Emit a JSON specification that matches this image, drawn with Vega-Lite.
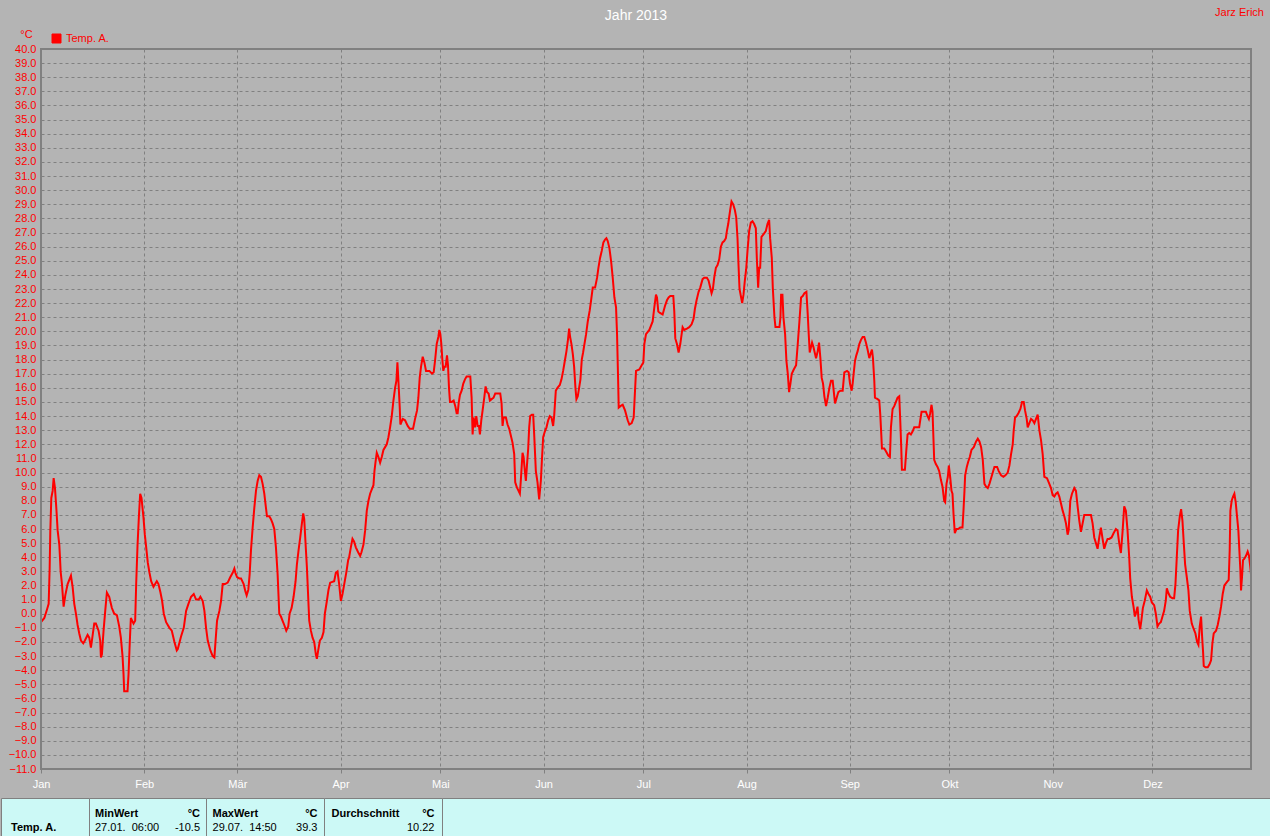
{
  "$schema": "https://vega.github.io/schema/vega-lite/v6.json",
  "background": "#b4b4b4",
  "padding": {"top": 7, "left": 0, "right": 0, "bottom": 0},
  "autosize": {"type": "pad"},
  "title": {"text": "Jahr 2013", "color": "#ffffff", "fontSize": 14, "fontWeight": "normal", "anchor": "middle", "offset": -16, "dy": 0},
  "spacing": 8,
  "bounds": "full",
  "config": {"font": "Liberation Sans", "view": {"stroke": null}},
  "vconcat": [
    {
      "width": 1250,
      "height": 720,
      "view": {"stroke": null, "fill": null},
      "title": {"text": "Jarz Erich", "anchor": "end", "color": "#ff0000", "fontSize": 11, "fontWeight": "normal", "dx": 12, "offset": 10},
      "layer": [
        {
          "data": {"values": [
        {"d":0.0,"t":-0.6},{"d":1.0,"t":-0.3},{"d":1.8,"t":0.3},{"d":2.3,"t":0.7},{"d":2.6,"t":3.2},{"d":2.8,"t":5.9},{"d":3.1,"t":8.2},{"d":3.5,"t":8.7},{"d":3.8,"t":9.6},{"d":4.2,"t":8.9},{"d":4.6,"t":7.5},{"d":5.0,"t":5.9},{"d":5.5,"t":4.9},{"d":5.7,"t":4.0},{"d":5.9,"t":3.0},{"d":6.3,"t":2.1},{"d":6.8,"t":0.5},{"d":7.3,"t":1.3},{"d":8.0,"t":2.1},{"d":9.0,"t":2.7},{"d":9.5,"t":1.9},{"d":10.0,"t":0.7},{"d":10.5,"t":0.0},{"d":11.0,"t":-0.8},{"d":11.5,"t":-1.4},{"d":12.0,"t":-1.9},{"d":12.7,"t":-2.1},{"d":13.2,"t":-1.9},{"d":14.0,"t":-1.5},{"d":14.5,"t":-1.7},{"d":15.0,"t":-2.4},{"d":15.3,"t":-1.9},{"d":16.0,"t":-0.7},{"d":16.5,"t":-0.7},{"d":17.3,"t":-1.2},{"d":17.8,"t":-1.9},{"d":18.0,"t":-3.1},{"d":18.3,"t":-2.9},{"d":18.8,"t":-1.2},{"d":19.3,"t":0.2},{"d":19.8,"t":1.5},{"d":20.5,"t":1.2},{"d":21.3,"t":0.4},{"d":22.0,"t":0.0},{"d":22.8,"t":-0.1},{"d":23.5,"t":-0.9},{"d":24.0,"t":-1.7},{"d":24.5,"t":-3.0},{"d":24.8,"t":-4.3},{"d":25.0,"t":-5.5},{"d":26.0,"t":-5.5},{"d":26.3,"t":-4.3},{"d":26.7,"t":-1.9},{"d":27.0,"t":-0.3},{"d":27.8,"t":-0.7},{"d":28.3,"t":-0.5},{"d":28.6,"t":2.1},{"d":29.0,"t":4.8},{"d":29.4,"t":6.8},{"d":29.8,"t":8.5},{"d":30.2,"t":8.2},{"d":30.8,"t":6.8},{"d":31.2,"t":5.6},{"d":31.7,"t":4.5},{"d":32.1,"t":3.6},{"d":32.6,"t":2.9},{"d":33.1,"t":2.3},{"d":33.8,"t":1.9},{"d":34.3,"t":2.1},{"d":34.8,"t":2.3},{"d":35.3,"t":2.1},{"d":35.9,"t":1.5},{"d":36.4,"t":0.9},{"d":36.9,"t":0.0},{"d":37.6,"t":-0.6},{"d":38.6,"t":-1.0},{"d":39.3,"t":-1.2},{"d":40.1,"t":-2.0},{"d":40.8,"t":-2.6},{"d":41.1,"t":-2.5},{"d":42.1,"t":-1.6},{"d":42.9,"t":-1.0},{"d":43.6,"t":0.2},{"d":44.3,"t":0.7},{"d":45.1,"t":1.2},{"d":45.9,"t":1.4},{"d":46.6,"t":1.0},{"d":47.4,"t":1.0},{"d":47.9,"t":1.2},{"d":48.6,"t":0.9},{"d":49.1,"t":0.2},{"d":49.6,"t":-1.0},{"d":50.1,"t":-1.9},{"d":50.9,"t":-2.6},{"d":51.6,"t":-3.0},{"d":52.1,"t":-3.1},{"d":52.4,"t":-2.1},{"d":52.9,"t":-0.5},{"d":53.6,"t":0.2},{"d":54.1,"t":0.9},{"d":54.6,"t":2.1},{"d":55.3,"t":2.1},{"d":56.1,"t":2.2},{"d":56.9,"t":2.6},{"d":57.6,"t":2.9},{"d":58.1,"t":3.2},{"d":58.4,"t":2.9},{"d":58.9,"t":2.6},{"d":59.6,"t":2.5},{"d":60.1,"t":2.5},{"d":60.9,"t":2.1},{"d":61.4,"t":1.6},{"d":61.8,"t":1.3},{"d":62.3,"t":1.7},{"d":62.7,"t":2.8},{"d":63.1,"t":4.5},{"d":63.6,"t":6.1},{"d":64.1,"t":7.5},{"d":64.6,"t":8.7},{"d":65.1,"t":9.4},{"d":65.6,"t":9.8},{"d":66.1,"t":9.7},{"d":66.6,"t":9.2},{"d":67.1,"t":8.5},{"d":67.6,"t":7.5},{"d":67.9,"t":6.9},{"d":68.6,"t":6.9},{"d":69.1,"t":6.7},{"d":69.6,"t":6.4},{"d":70.1,"t":6.0},{"d":70.6,"t":4.7},{"d":71.1,"t":2.8},{"d":71.6,"t":0.0},{"d":72.1,"t":-0.2},{"d":72.6,"t":-0.5},{"d":73.1,"t":-0.8},{"d":73.7,"t":-1.2},{"d":74.3,"t":-0.9},{"d":74.7,"t":0.0},{"d":75.3,"t":0.4},{"d":75.9,"t":1.2},{"d":76.5,"t":2.3},{"d":76.9,"t":3.5},{"d":77.4,"t":4.5},{"d":77.9,"t":5.4},{"d":78.4,"t":6.4},{"d":78.8,"t":7.1},{"d":79.1,"t":6.7},{"d":79.4,"t":5.4},{"d":79.9,"t":3.3},{"d":80.6,"t":-0.5},{"d":81.1,"t":-1.2},{"d":81.6,"t":-1.7},{"d":82.1,"t":-2.0},{"d":82.6,"t":-2.9},{"d":82.9,"t":-3.2},{"d":83.3,"t":-2.6},{"d":83.8,"t":-1.9},{"d":84.4,"t":-1.7},{"d":84.9,"t":-1.3},{"d":85.3,"t":0.0},{"d":85.9,"t":0.9},{"d":86.4,"t":1.7},{"d":86.9,"t":2.2},{"d":88.1,"t":2.3},{"d":88.6,"t":2.9},{"d":89.1,"t":3.0},{"d":89.6,"t":2.1},{"d":90.1,"t":0.9},{"d":90.6,"t":1.4},{"d":91.2,"t":2.2},{"d":91.8,"t":3.0},{"d":92.3,"t":3.8},
        {"d":92.6,"t":4.0},{"d":93.1,"t":4.7},{"d":93.6,"t":5.3},{"d":94.1,"t":5.1},{"d":94.6,"t":4.7},{"d":95.3,"t":4.35},{"d":95.9,"t":4.1},{"d":96.3,"t":4.35},{"d":96.9,"t":4.9},{"d":97.4,"t":5.9},{"d":97.9,"t":7.3},{"d":98.4,"t":8.0},{"d":98.9,"t":8.5},{"d":99.4,"t":8.8},{"d":99.9,"t":9.1},{"d":100.2,"t":10.1},{"d":100.5,"t":10.7},{"d":100.9,"t":11.4},{"d":101.4,"t":11.1},{"d":101.9,"t":10.7},{"d":102.4,"t":11.1},{"d":102.9,"t":11.6},{"d":103.4,"t":11.8},{"d":103.9,"t":12.0},{"d":104.4,"t":12.5},{"d":104.9,"t":13.2},{"d":105.4,"t":14.0},{"d":105.9,"t":15.1},{"d":106.4,"t":16.0},{"d":106.8,"t":16.5},{"d":107.1,"t":17.8},{"d":107.4,"t":16.5},{"d":107.8,"t":14.6},{"d":108.0,"t":13.4},{"d":108.7,"t":13.8},{"d":109.4,"t":13.7},{"d":110.2,"t":13.3},{"d":110.8,"t":13.1},{"d":111.8,"t":13.1},{"d":112.4,"t":13.8},{"d":113.0,"t":14.4},{"d":113.4,"t":15.3},{"d":113.8,"t":16.7},{"d":114.2,"t":17.5},{"d":114.7,"t":18.2},{"d":115.2,"t":17.8},{"d":115.7,"t":17.2},{"d":116.7,"t":17.2},{"d":117.5,"t":17.0},{"d":118.0,"t":17.1},{"d":118.4,"t":17.9},{"d":118.9,"t":19.1},{"d":119.4,"t":19.6},{"d":119.7,"t":20.1},{"d":120.0,"t":19.8},{"d":120.3,"t":19.1},{"d":120.6,"t":18.0},{"d":120.9,"t":17.2},{"d":121.2,"t":17.5},{"d":121.6,"t":17.5},{"d":122.0,"t":18.3},{"d":122.3,"t":17.6},{"d":122.6,"t":16.0},{"d":122.9,"t":15.0},{"d":123.4,"t":15.0},{"d":124.0,"t":15.1},{"d":124.5,"t":14.7},{"d":124.9,"t":14.2},{"d":125.2,"t":14.2},{"d":125.5,"t":14.9},{"d":125.9,"t":15.5},{"d":126.4,"t":15.8},{"d":126.9,"t":16.3},{"d":127.4,"t":16.6},{"d":127.9,"t":16.8},{"d":129.0,"t":16.8},{"d":129.4,"t":15.3},{"d":129.7,"t":12.7},{"d":130.0,"t":13.9},{"d":130.4,"t":13.2},{"d":130.8,"t":14.0},{"d":131.2,"t":13.3},{"d":131.6,"t":13.3},{"d":131.9,"t":12.7},{"d":132.3,"t":13.7},{"d":132.7,"t":14.4},{"d":133.2,"t":15.3},{"d":133.6,"t":16.1},{"d":134.0,"t":15.7},{"d":134.5,"t":15.6},{"d":134.9,"t":15.1},{"d":135.4,"t":15.2},{"d":136.0,"t":15.3},{"d":136.5,"t":15.6},{"d":137.2,"t":15.6},{"d":138.0,"t":15.6},{"d":138.4,"t":14.9},{"d":138.7,"t":13.3},{"d":139.0,"t":13.9},{"d":139.7,"t":13.9},{"d":140.2,"t":13.4},{"d":140.7,"t":13.1},{"d":141.2,"t":12.6},{"d":141.7,"t":12.1},{"d":142.2,"t":11.3},{"d":142.5,"t":9.3},{"d":143.0,"t":8.95},{"d":143.5,"t":8.7},{"d":143.9,"t":8.5},{"d":144.2,"t":9.5},{"d":144.7,"t":11.4},{"d":145.0,"t":11.1},{"d":145.4,"t":10.1},{"d":145.7,"t":9.4},{"d":146.0,"t":10.4},{"d":146.4,"t":11.7},{"d":146.7,"t":13.2},{"d":147.0,"t":14.0},{"d":147.5,"t":14.1},{"d":147.9,"t":14.1},{"d":148.2,"t":12.7},{"d":148.7,"t":10.1},{"d":149.2,"t":9.3},{"d":149.7,"t":8.1},{"d":150.2,"t":9.4},{"d":150.5,"t":10.8},{"d":150.9,"t":12.5},{"d":151.4,"t":12.9},{"d":151.9,"t":13.2},{"d":152.4,"t":13.7},{"d":152.9,"t":14.0},{"d":153.4,"t":13.9},{"d":153.9,"t":13.3},{"d":154.2,"t":14.0},{"d":154.7,"t":15.8},{"d":155.2,"t":16.0},{"d":155.9,"t":16.2},{"d":156.4,"t":16.6},{"d":156.9,"t":17.2},{"d":157.4,"t":17.9},{"d":157.9,"t":18.6},{"d":158.3,"t":19.3},{"d":158.7,"t":20.2},{"d":159.0,"t":19.6},{"d":159.4,"t":19.1},{"d":159.8,"t":18.4},{"d":160.2,"t":17.5},{"d":160.6,"t":16.0},{"d":160.9,"t":15.2},{"d":161.3,"t":15.4},{"d":161.7,"t":16.0},{"d":162.1,"t":16.6},{"d":162.5,"t":18.0},{"d":162.9,"t":18.5},{"d":163.3,"t":19.1},{"d":163.8,"t":19.8},
        {"d":164.3,"t":20.7},{"d":164.9,"t":21.5},{"d":165.3,"t":22.2},{"d":165.8,"t":23.1},{"d":166.5,"t":23.1},{"d":167.1,"t":23.8},{"d":167.5,"t":24.5},{"d":168.0,"t":25.2},{"d":168.5,"t":25.7},{"d":169.0,"t":26.3},{"d":169.5,"t":26.5},{"d":169.9,"t":26.6},{"d":170.3,"t":26.4},{"d":170.8,"t":25.9},{"d":171.3,"t":25.0},{"d":171.8,"t":23.8},{"d":172.3,"t":22.4},{"d":172.8,"t":21.7},{"d":173.1,"t":19.8},{"d":173.4,"t":16.8},{"d":173.6,"t":14.6},{"d":174.1,"t":14.7},{"d":174.8,"t":14.8},{"d":175.5,"t":14.4},{"d":176.3,"t":13.7},{"d":176.8,"t":13.4},{"d":177.5,"t":13.5},{"d":178.1,"t":13.9},{"d":178.5,"t":15.8},{"d":178.8,"t":17.2},{"d":179.8,"t":17.3},{"d":180.5,"t":17.6},{"d":181.0,"t":17.8},{"d":181.3,"t":19.1},{"d":181.8,"t":19.8},{"d":182.8,"t":20.1},
        {"d":183.8,"t":20.7},{"d":184.3,"t":21.7},{"d":184.8,"t":22.6},{"d":185.1,"t":22.4},{"d":185.5,"t":21.4},{"d":186.0,"t":21.3},{"d":186.8,"t":21.2},{"d":187.5,"t":21.8},{"d":188.1,"t":22.2},{"d":188.6,"t":22.4},{"d":189.1,"t":22.5},{"d":190.0,"t":22.5},{"d":190.3,"t":21.4},{"d":190.6,"t":19.5},{"d":191.1,"t":19.1},{"d":191.6,"t":18.5},{"d":192.1,"t":19.1},{"d":192.8,"t":20.3},{"d":193.3,"t":20.1},{"d":194.1,"t":20.2},{"d":194.8,"t":20.3},{"d":195.5,"t":20.5},{"d":196.1,"t":20.9},{"d":196.5,"t":21.6},{"d":197.0,"t":22.2},{"d":197.6,"t":22.8},{"d":198.1,"t":23.1},{"d":198.8,"t":23.7},{"d":199.3,"t":23.8},{"d":200.1,"t":23.8},{"d":200.6,"t":23.6},{"d":201.1,"t":23.1},{"d":201.5,"t":22.7},{"d":201.9,"t":23.0},{"d":202.3,"t":23.8},{"d":202.8,"t":24.5},{"d":203.3,"t":24.7},{"d":203.8,"t":25.1},{"d":204.3,"t":26.0},{"d":204.8,"t":26.3},{"d":205.3,"t":26.4},{"d":205.8,"t":26.6},{"d":206.1,"t":27.1},{"d":206.5,"t":27.6},{"d":206.8,"t":28.1},{"d":207.1,"t":28.6},{"d":207.5,"t":29.2},{"d":208.0,"t":29.0},{"d":208.5,"t":28.6},{"d":208.9,"t":28.1},{"d":209.3,"t":26.6},{"d":209.6,"t":24.7},{"d":209.9,"t":23.0},{"d":210.3,"t":22.5},{"d":210.7,"t":22.0},{"d":211.1,"t":22.6},{"d":211.5,"t":23.6},{"d":211.9,"t":24.4},{"d":212.3,"t":25.7},{"d":212.8,"t":27.1},{"d":213.3,"t":27.7},{"d":213.8,"t":27.8},{"d":214.3,"t":27.6},{"d":214.8,"t":27.3},{"d":215.1,"t":25.2},{"d":215.5,"t":23.1},{"d":215.8,"t":24.5},{"d":216.1,"t":24.5},{"d":216.5,"t":26.7},{"d":217.2,"t":26.9},{"d":217.8,"t":27.1},{"d":218.3,"t":27.6},{"d":218.8,"t":27.9},{"d":219.1,"t":26.6},{"d":219.6,"t":25.2},
        {"d":219.9,"t":23.1},{"d":220.4,"t":21.0},{"d":220.7,"t":20.3},{"d":221.9,"t":20.3},{"d":222.2,"t":21.0},{"d":222.4,"t":22.6},{"d":222.8,"t":22.6},{"d":223.1,"t":21.0},{"d":223.6,"t":19.8},{"d":224.0,"t":17.9},{"d":224.4,"t":17.0},{"d":224.8,"t":15.7},{"d":225.2,"t":16.3},{"d":225.6,"t":17.0},{"d":226.2,"t":17.3},{"d":226.9,"t":17.6},{"d":227.4,"t":19.1},{"d":227.9,"t":20.7},{"d":228.4,"t":22.4},{"d":228.9,"t":22.5},{"d":229.4,"t":22.7},{"d":230.0,"t":22.8},{"d":230.4,"t":21.2},{"d":230.7,"t":19.8},{"d":231.0,"t":18.5},{"d":231.4,"t":18.9},{"d":231.7,"t":19.2},{"d":232.1,"t":18.9},{"d":232.6,"t":18.4},{"d":232.9,"t":18.1},{"d":233.4,"t":18.6},{"d":233.8,"t":19.2},{"d":234.2,"t":18.1},{"d":234.6,"t":16.7},{"d":235.0,"t":16.3},{"d":235.4,"t":15.4},{"d":235.9,"t":14.7},{"d":236.4,"t":15.3},{"d":236.9,"t":16.0},{"d":237.4,"t":16.5},{"d":237.9,"t":16.5},{"d":238.2,"t":15.8},{"d":238.6,"t":14.9},{"d":239.1,"t":15.3},{"d":239.6,"t":15.7},{"d":240.2,"t":15.8},{"d":240.9,"t":15.8},{"d":241.4,"t":17.1},{"d":242.2,"t":17.2},{"d":242.7,"t":17.1},{"d":243.1,"t":16.3},{"d":243.6,"t":15.8},{"d":243.9,"t":16.3},{"d":244.2,"t":17.0},{"d":244.6,"t":17.9},{"d":245.0,"t":18.3},{"d":245.4,"t":18.6},{"d":245.9,"t":19.1},{"d":246.4,"t":19.4},{"d":246.9,"t":19.6},{"d":247.4,"t":19.6},{"d":247.9,"t":19.2},{"d":248.4,"t":18.7},{"d":248.9,"t":18.1},{"d":249.4,"t":18.5},{"d":249.7,"t":18.7},{"d":250.0,"t":18.1},{"d":250.4,"t":16.5},{"d":250.6,"t":15.3},{"d":251.4,"t":15.2},{"d":251.9,"t":15.1},{"d":252.2,"t":14.1},{"d":252.5,"t":12.7},{"d":252.7,"t":11.7},{"d":253.4,"t":11.7},{"d":253.9,"t":11.5},{"d":254.6,"t":11.2},{"d":255.1,"t":11.1},{"d":255.4,"t":13.2},{"d":255.9,"t":14.5},{"d":256.4,"t":14.7},{"d":256.9,"t":15.0},{"d":257.4,"t":15.3},{"d":257.9,"t":15.4},{"d":258.2,"t":13.7},{"d":258.5,"t":11.8},{"d":258.7,"t":10.2},{"d":259.6,"t":10.2},{"d":260.0,"t":11.5},{"d":260.4,"t":12.7},{"d":260.9,"t":12.8},{"d":261.4,"t":12.7},{"d":261.9,"t":12.9},{"d":262.4,"t":13.2},{"d":263.2,"t":13.2},{"d":263.9,"t":13.2},{"d":264.2,"t":13.7},{"d":264.6,"t":14.3},{"d":265.2,"t":14.3},{"d":265.9,"t":14.3},{"d":266.4,"t":14.0},{"d":266.8,"t":13.8},{"d":267.2,"t":14.2},{"d":267.6,"t":14.8},{"d":267.9,"t":14.3},{"d":268.4,"t":10.9},{"d":268.9,"t":10.6},{"d":269.4,"t":10.4},{"d":269.9,"t":10.1},
        {"d":270.4,"t":9.5},{"d":270.9,"t":9.0},{"d":271.4,"t":8.0},{"d":271.7,"t":7.9},{"d":272.1,"t":9.2},{"d":272.5,"t":9.7},{"d":272.8,"t":10.5},{"d":273.2,"t":9.7},{"d":273.6,"t":8.7},{"d":273.9,"t":8.5},{"d":274.2,"t":7.1},{"d":274.6,"t":5.7},{"d":275.1,"t":6.0},{"d":275.6,"t":6.0},{"d":276.2,"t":6.1},{"d":276.9,"t":6.1},{"d":277.2,"t":7.3},{"d":277.5,"t":8.7},{"d":277.7,"t":9.8},{"d":278.2,"t":10.4},{"d":278.6,"t":10.75},{"d":279.1,"t":11.1},{"d":279.6,"t":11.6},{"d":280.3,"t":11.8},{"d":281.0,"t":12.2},{"d":281.5,"t":12.4},{"d":282.0,"t":12.2},{"d":282.5,"t":11.8},{"d":283.0,"t":10.9},{"d":283.5,"t":9.2},{"d":284.0,"t":9.0},{"d":284.5,"t":8.9},{"d":285.0,"t":9.2},{"d":285.5,"t":9.6},{"d":286.0,"t":10.0},{"d":286.5,"t":10.4},{"d":287.3,"t":10.4},{"d":287.8,"t":10.1},{"d":288.5,"t":9.8},{"d":289.2,"t":9.7},{"d":289.8,"t":9.8},{"d":290.5,"t":10.0},{"d":291.0,"t":10.5},{"d":291.5,"t":11.3},{"d":292.0,"t":12.0},{"d":292.3,"t":13.0},{"d":292.7,"t":13.9},{"d":293.2,"t":14.0},{"d":293.7,"t":14.2},{"d":294.3,"t":14.5},{"d":294.8,"t":15.0},{"d":295.3,"t":15.0},{"d":295.7,"t":14.4},{"d":296.2,"t":13.8},{"d":296.5,"t":13.2},{"d":297.0,"t":13.5},{"d":297.5,"t":13.8},{"d":298.0,"t":13.7},{"d":298.5,"t":13.5},{"d":299.0,"t":13.8},{"d":299.5,"t":14.1},{"d":300.0,"t":13.0},{"d":300.5,"t":12.3},{"d":301.0,"t":11.3},{"d":301.5,"t":9.7},{"d":302.3,"t":9.6},{"d":303.0,"t":9.2},{"d":303.5,"t":8.9},{"d":304.0,"t":8.4},{"d":304.5,"t":8.3},{"d":305.0,"t":8.5},{"d":305.5,"t":8.6},{"d":306.0,"t":8.3},{"d":306.5,"t":7.8},{"d":307.0,"t":7.3},{"d":307.5,"t":6.9},{"d":308.0,"t":6.4},{"d":308.5,"t":5.6},{"d":308.8,"t":5.9},{"d":309.3,"t":8.0},{"d":309.8,"t":8.5},{"d":310.5,"t":8.9},{"d":311.0,"t":8.7},{"d":311.5,"t":7.6},{"d":312.0,"t":6.6},{"d":312.5,"t":5.8},{"d":313.0,"t":6.4},{"d":313.5,"t":7.0},{"d":314.5,"t":7.0},{"d":315.5,"t":7.0},{"d":316.0,"t":6.4},{"d":316.5,"t":5.4},{"d":317.0,"t":5.0},{"d":317.5,"t":4.6},{"d":318.0,"t":5.4},{"d":318.5,"t":6.1},{"d":319.0,"t":5.3},{"d":319.5,"t":4.6},{"d":320.0,"t":5.0},{"d":320.5,"t":5.3},{"d":321.0,"t":5.3},{"d":321.7,"t":5.4},{"d":322.3,"t":5.7},{"d":323.0,"t":6.0},{"d":323.5,"t":5.9},{"d":324.0,"t":5.0},{"d":324.5,"t":4.3},{"d":325.0,"t":5.8},{"d":325.5,"t":7.6},{"d":326.0,"t":7.3},{"d":326.5,"t":5.9},{"d":327.0,"t":4.0},{"d":327.3,"t":2.5},{"d":327.8,"t":1.2},{"d":328.3,"t":0.5},{"d":328.7,"t":-0.2},{"d":329.1,"t":0.1},{"d":329.5,"t":0.5},{"d":329.8,"t":-0.4},{"d":330.3,"t":-1.1},{"d":330.7,"t":-0.4},{"d":331.1,"t":0.4},{"d":331.7,"t":0.95},{"d":332.3,"t":1.65},{"d":332.8,"t":1.4},{"d":333.3,"t":1.2},{"d":333.8,"t":0.8},{"d":334.5,"t":0.6},{"d":335.0,"t":0.0},{"d":335.5,"t":-0.9},{"d":336.0,"t":-0.7},{"d":336.5,"t":-0.6},{"d":337.0,"t":-0.2},{"d":337.5,"t":0.2},{"d":338.0,"t":0.95},{"d":338.3,"t":1.8},{"d":338.7,"t":1.5},{"d":339.3,"t":1.2},{"d":340.0,"t":1.1},{"d":340.5,"t":1.1},{"d":340.9,"t":2.1},{"d":341.3,"t":4.0},{"d":341.7,"t":5.9},{"d":342.2,"t":6.9},{"d":342.6,"t":7.4},{"d":343.0,"t":6.6},{"d":343.4,"t":5.0},{"d":343.8,"t":3.5},{"d":344.3,"t":2.6},{"d":344.8,"t":1.65},{"d":345.2,"t":0.2},{"d":345.8,"t":-0.7},{"d":346.4,"t":-1.1},{"d":346.9,"t":-1.4},{"d":347.4,"t":-2.0},{"d":347.8,"t":-2.2},{"d":348.2,"t":-0.9},{"d":348.6,"t":-0.2},{"d":348.9,"t":-1.6},{"d":349.2,"t":-2.7},{"d":349.4,"t":-3.7},{"d":349.9,"t":-3.8},{"d":350.6,"t":-3.8},{"d":351.1,"t":-3.6},{"d":351.6,"t":-3.3},{"d":352.0,"t":-2.1},{"d":352.4,"t":-1.4},{"d":353.1,"t":-1.2},{"d":353.6,"t":-0.8},{"d":354.1,"t":-0.2},{"d":354.6,"t":0.5},{"d":355.1,"t":1.4},{"d":355.6,"t":2.0},{"d":356.4,"t":2.25},{"d":356.9,"t":2.4},{"d":357.2,"t":4.5},{"d":357.4,"t":7.3},{"d":357.8,"t":8.0},{"d":358.2,"t":8.3},{"d":358.6,"t":8.5},{"d":359.0,"t":7.9},{"d":359.4,"t":6.9},{"d":359.8,"t":5.9},{"d":360.1,"t":4.5},{"d":360.4,"t":3.1},{"d":360.6,"t":1.65},{"d":360.9,"t":2.6},{"d":361.2,"t":3.8},{"d":361.6,"t":3.9},{"d":362.1,"t":4.1},{"d":362.6,"t":4.4},{"d":363.0,"t":4.1},{"d":363.4,"t":3.3},{"d":363.6,"t":2.8}
          ]},
          "mark": {"type": "line", "strokeWidth": 2, "clip": true},
          "encoding": {
            "x": {"field": "d", "type": "quantitative",
              "scale": {"domain": [0, 363.6], "range": [40, 1250], "nice": false, "zero": false},
              "axis": {"title": null, "values": [0,31,59,90,120,151,181,212,243,273,304,334],
                "labelExpr": "['Jan','Feb','Mär','Apr','Mai','Jun','Jul','Aug','Sep','Okt','Nov','Dez'][indexof([0,31,59,90,120,151,181,212,243,273,304,334], datum.value)]",
                "labelColor": "#ffffff", "labelFontSize": 11, "labelPadding": 5, "labelFlush": false, "labelOverlap": false, "labelBound": false,
                "tickColor": "#808080", "tickSize": 4, "tickWidth": 1, "domain": false,
                "grid": true, "gridColor": "#808080", "gridDash": [3, 3], "gridWidth": 1, "gridOpacity": 1}},
            "y": {"field": "t", "type": "quantitative",
              "scale": {"domain": [-11, 40], "nice": false, "zero": false},
              "axis": {"title": "°C", "titleAngle": 0, "titleX": -15, "titleY": -15, "titleAlign": "center", "titleBaseline": "middle",
                "titleColor": "#ff0000", "titleFontSize": 11, "titleFontWeight": "normal", "offset": -40,
                "values": [-11,-10,-9,-8,-7,-6,-5,-4,-3,-2,-1,0,1,2,3,4,5,6,7,8,9,10,11,12,13,14,15,16,17,18,19,20,21,22,23,24,25,26,27,28,29,30,31,32,33,34,35,36,37,38,39,40],
                "format": ".1f", "labelColor": "#ff0000", "labelFontSize": 11, "labelPadding": 5, "labelFlush": false, "labelOverlap": false, "labelBound": false,
                "ticks": false, "domain": false,
                "grid": true, "gridColor": "#808080", "gridDash": [3, 3], "gridWidth": 1, "gridOpacity": 1}},
            "color": {"datum": "Temp. A.", "type": "nominal", "scale": {"range": ["#ff0000"]},
              "legend": {"title": null, "orient": "none", "legendX": 50, "legendY": -16, "padding": 0,
                "labelColor": "#ff0000", "labelFontSize": 11, "labelOffset": 4,
                "symbolType": "square", "symbolSize": 81, "symbolFillColor": "#ff0000", "symbolStrokeColor": "#ffffff", "symbolStrokeWidth": 1,
                "encode": {"symbols": {"update": {"fill": {"value": "#ff0000"}, "stroke": {"value": "#ffffff"}, "strokeWidth": {"value": 1}, "opacity": {"value": 1}}}}}}
          }
        },
        {
          "data": {"values": [{"frame": "plot"}]},
          "mark": {"type": "rect", "fillOpacity": 0, "stroke": "#808080", "strokeWidth": 2},
          "encoding": {
            "x": {"datum": 0, "type": "quantitative",
              "axis": {"title": null, "values": [0,31,59,90,120,151,181,212,243,273,304,334],
                "labelExpr": "['Jan','Feb','Mär','Apr','Mai','Jun','Jul','Aug','Sep','Okt','Nov','Dez'][indexof([0,31,59,90,120,151,181,212,243,273,304,334], datum.value)]",
                "labelColor": "#ffffff", "labelFontSize": 11, "labelPadding": 5, "labelFlush": false, "labelOverlap": false, "labelBound": false,
                "tickColor": "#808080", "tickSize": 4, "tickWidth": 1, "domain": false,
                "grid": true, "gridColor": "#808080", "gridDash": [3, 3], "gridWidth": 1, "gridOpacity": 1}},
            "x2": {"datum": 363.6},
            "y": {"datum": -11, "type": "quantitative",
              "axis": {"title": "°C", "titleAngle": 0, "titleX": -15, "titleY": -15, "titleAlign": "center", "titleBaseline": "middle",
                "titleColor": "#ff0000", "titleFontSize": 11, "titleFontWeight": "normal", "offset": -40,
                "values": [-11,-10,-9,-8,-7,-6,-5,-4,-3,-2,-1,0,1,2,3,4,5,6,7,8,9,10,11,12,13,14,15,16,17,18,19,20,21,22,23,24,25,26,27,28,29,30,31,32,33,34,35,36,37,38,39,40],
                "format": ".1f", "labelColor": "#ff0000", "labelFontSize": 11, "labelPadding": 5, "labelFlush": false, "labelOverlap": false, "labelBound": false,
                "ticks": false, "domain": false,
                "grid": true, "gridColor": "#808080", "gridDash": [3, 3], "gridWidth": 1, "gridOpacity": 1}},
            "y2": {"datum": 40}
          }
        }
      ]
    },
    {
      "hconcat": [
        {
          "width": 88, "height": 38,
          "view": {"fill": "#ccf9f6", "stroke": "#808080", "strokeWidth": 1},
          "data": {"values": [{"row": "v", "label": "Temp. A."}]},
          "mark": {"type": "text", "align": "left", "baseline": "alphabetic", "fontWeight": "bold", "fontSize": 11, "color": "#000000"},
          "encoding": {
            "x": {"datum": "L", "type": "nominal", "scale": {"type": "point", "domain": ["L", "R"], "padding": 0.147}, "axis": null},
            "y": {"field": "row", "type": "nominal", "scale": {"type": "point", "domain": ["h", "v"], "padding": 0.8, "align": 0.8}, "axis": null},
            "text": {"field": "label"}
          }
        },
        {
          "width": 117, "height": 38,
          "view": {"fill": "#ccf9f6", "stroke": "#808080", "strokeWidth": 1},
          "data": {"values": [{"row": "h", "left": "MinWert", "right": "°C"}, {"row": "v", "left": "27.01.\u00a0\u00a006:00", "right": "-10.5"}]},
          "encoding": {"y": {"field": "row", "type": "nominal", "scale": {"type": "point", "domain": ["h", "v"], "padding": 0.8, "align": 0.8}, "axis": null}},
          "layer": [
            {"transform": [{"filter": "datum.row == 'h'"}], "mark": {"type": "text", "align": "left", "baseline": "alphabetic", "fontWeight": "bold", "fontSize": 11, "color": "#000000"},
             "encoding": {"x": {"datum": "L", "type": "nominal", "scale": {"type": "point", "domain": ["L", "R"], "padding": 0.057}, "axis": null}, "text": {"field": "left"}}},
            {"transform": [{"filter": "datum.row == 'h'"}], "mark": {"type": "text", "align": "right", "baseline": "alphabetic", "fontWeight": "bold", "fontSize": 11, "color": "#000000"},
             "encoding": {"x": {"datum": "R", "type": "nominal"}, "text": {"field": "right"}}},
            {"transform": [{"filter": "datum.row == 'v'"}], "mark": {"type": "text", "align": "left", "baseline": "alphabetic", "fontWeight": "normal", "fontSize": 11, "color": "#000000"},
             "encoding": {"x": {"datum": "L", "type": "nominal"}, "text": {"field": "left"}}},
            {"transform": [{"filter": "datum.row == 'v'"}], "mark": {"type": "text", "align": "right", "baseline": "alphabetic", "fontWeight": "normal", "fontSize": 11, "color": "#000000"},
             "encoding": {"x": {"datum": "R", "type": "nominal"}, "text": {"field": "right"}}}
          ]
        },
        {
          "width": 118, "height": 38,
          "view": {"fill": "#ccf9f6", "stroke": "#808080", "strokeWidth": 1},
          "data": {"values": [{"row": "h", "left": "MaxWert", "right": "°C"}, {"row": "v", "left": "29.07.\u00a0\u00a014:50", "right": "39.3"}]},
          "encoding": {"y": {"field": "row", "type": "nominal", "scale": {"type": "point", "domain": ["h", "v"], "padding": 0.8, "align": 0.8}, "axis": null}},
          "layer": [
            {"transform": [{"filter": "datum.row == 'h'"}], "mark": {"type": "text", "align": "left", "baseline": "alphabetic", "fontWeight": "bold", "fontSize": 11, "color": "#000000"},
             "encoding": {"x": {"datum": "L", "type": "nominal", "scale": {"type": "point", "domain": ["L", "R"], "padding": 0.062}, "axis": null}, "text": {"field": "left"}}},
            {"transform": [{"filter": "datum.row == 'h'"}], "mark": {"type": "text", "align": "right", "baseline": "alphabetic", "fontWeight": "bold", "fontSize": 11, "color": "#000000"},
             "encoding": {"x": {"datum": "R", "type": "nominal"}, "text": {"field": "right"}}},
            {"transform": [{"filter": "datum.row == 'v'"}], "mark": {"type": "text", "align": "left", "baseline": "alphabetic", "fontWeight": "normal", "fontSize": 11, "color": "#000000"},
             "encoding": {"x": {"datum": "L", "type": "nominal"}, "text": {"field": "left"}}},
            {"transform": [{"filter": "datum.row == 'v'"}], "mark": {"type": "text", "align": "right", "baseline": "alphabetic", "fontWeight": "normal", "fontSize": 11, "color": "#000000"},
             "encoding": {"x": {"datum": "R", "type": "nominal"}, "text": {"field": "right"}}}
          ]
        },
        {
          "width": 118, "height": 38,
          "view": {"fill": "#ccf9f6", "stroke": "#808080", "strokeWidth": 1},
          "data": {"values": [{"row": "h", "left": "Durchschnitt", "right": "°C"}, {"row": "v", "left": "", "right": "10.22"}]},
          "encoding": {"y": {"field": "row", "type": "nominal", "scale": {"type": "point", "domain": ["h", "v"], "padding": 0.8, "align": 0.8}, "axis": null}},
          "layer": [
            {"transform": [{"filter": "datum.row == 'h'"}], "mark": {"type": "text", "align": "left", "baseline": "alphabetic", "fontWeight": "bold", "fontSize": 11, "color": "#000000"},
             "encoding": {"x": {"datum": "L", "type": "nominal", "scale": {"type": "point", "domain": ["L", "R"], "padding": 0.073}, "axis": null}, "text": {"field": "left"}}},
            {"transform": [{"filter": "datum.row == 'h'"}], "mark": {"type": "text", "align": "right", "baseline": "alphabetic", "fontWeight": "bold", "fontSize": 11, "color": "#000000"},
             "encoding": {"x": {"datum": "R", "type": "nominal"}, "text": {"field": "right"}}},
            {"transform": [{"filter": "datum.row == 'v'"}], "mark": {"type": "text", "align": "right", "baseline": "alphabetic", "fontWeight": "normal", "fontSize": 11, "color": "#000000"},
             "encoding": {"x": {"datum": "R", "type": "nominal"}, "text": {"field": "right"}}}
          ]
        },
        {
          "width": 829, "height": 38,
          "view": {"fill": "#ccf9f6", "stroke": "#808080", "strokeWidth": 1},
          "data": {"values": [{"label": ""}]},
          "mark": {"type": "text"},
          "encoding": {"text": {"field": "label"}}
        }
      ],
      "spacing": 0,
      "bounds": "flush"
    }
  ]
}
